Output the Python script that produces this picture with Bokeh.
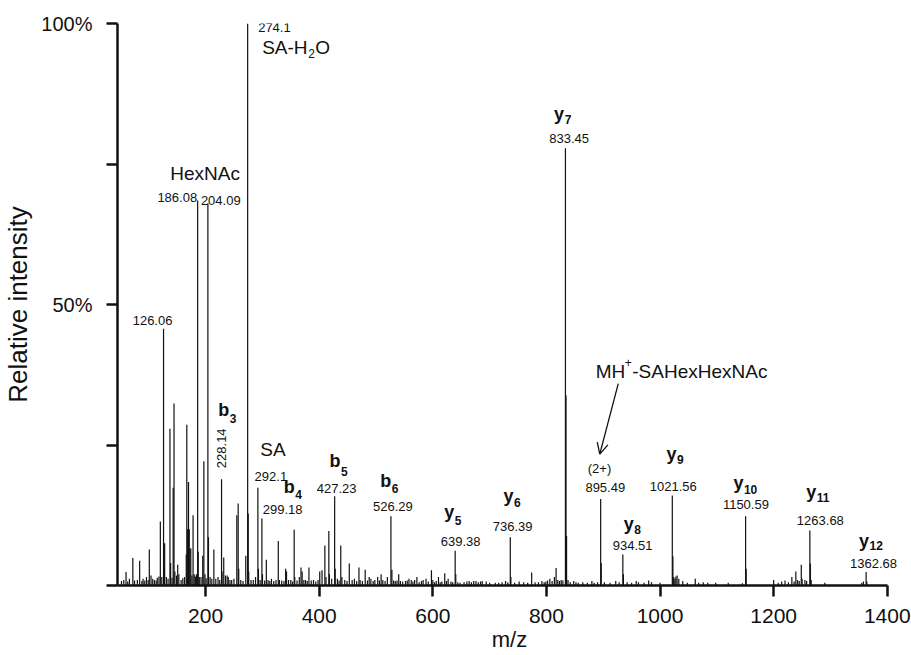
from bokeh.plotting import figure
from bokeh.models import Label, Arrow, OpenHead, FixedTicker, Range1d
from bokeh.embed import file_html
from bokeh.resources import INLINE

# ---------------- data ----------------
mz = [
    52, 56, 60, 63, 66, 72, 75, 80, 84, 88, 90, 93, 96, 99, 101, 104, 107, 110, 113, 115,
    118, 120.4, 123, 126.06, 127.1, 128, 131, 134, 137.3, 138.5, 141, 143, 144.5, 146, 149,
    151, 153, 157, 160, 163, 166, 167, 168.5, 170, 171.3, 172.5, 174, 176, 178, 180, 182,
    184, 186.08, 187.1, 189, 192, 195, 197, 199, 201, 204.09, 205.1, 208, 211, 214.6, 218,
    222, 225, 228.14, 229.1, 232, 235, 238, 240, 243, 246, 250, 255, 257.4, 258.4, 262, 266,
    270.8, 274.1, 275.1, 276, 280, 284, 288, 292.1, 293.1, 296, 299.18, 300.2, 304, 307, 310,
    313, 316, 320, 324, 328, 330, 334, 338, 341, 342.5, 346, 350, 353, 356, 357, 361, 365,
    368, 370, 373, 376, 379, 382, 386, 390, 394, 398, 401, 405, 410, 412, 417, 418, 422,
    427.23, 428.2, 432, 435, 438, 440, 445, 449, 453, 458, 462, 466, 470, 472, 476, 481,
    485, 488, 491, 495, 498, 503, 506, 509, 512, 516, 520, 526.29, 528, 531, 534, 537, 540,
    543, 547, 552, 555, 558, 562, 565, 568, 572, 576, 580, 583, 588, 592, 597.6, 600, 603,
    606, 610, 613, 616, 621, 624, 627, 632, 635, 639.38, 640.4, 644, 648, 655, 660, 664,
    668, 672, 676, 680, 684, 687, 694, 700, 710, 716, 722, 728, 732, 736.39, 737.4, 744,
    752, 760, 767, 774, 780, 786, 792, 796, 799, 802, 806, 810, 814, 817, 820, 823, 826,
    829, 833.45, 834.45, 835.45, 838, 842, 848, 852, 856, 864, 872, 880, 884, 890, 895.49,
    896.5, 902, 912, 922, 928, 934.51, 935.5, 942, 950, 958, 962, 972, 980, 985, 1000,
    1021.56, 1022.6, 1024, 1026, 1028, 1030, 1033, 1040, 1048, 1062, 1068, 1076, 1084,
    1098, 1120, 1145, 1150.59, 1151.6, 1200, 1208, 1214, 1220, 1226, 1232, 1236, 1239,
    1242, 1245, 1248.6, 1250, 1255, 1258, 1263.68, 1264.7, 1266, 1290, 1355, 1358,
    1362.68, 1364,
]
intensity = [
    0.8, 1.0, 2.4, 0.7, 1.2, 4.9, 0.9, 1.0, 4.4, 0.8, 1.2, 0.9, 1.5, 1.0, 6.4, 1.8, 1.2, 1.0,
    0.9, 1.4, 1.6, 11.4, 1.5, 45.7, 3.0, 7.5, 1.5, 1.2, 27.9, 4.0, 1.4, 17.4, 32.4, 2.5, 1.8,
    3.7, 2.0, 1.0, 1.3, 1.5, 5.5, 28.6, 10.0, 18.4, 10.0, 6.6, 6.6, 1.8, 12.5, 2.0, 1.6,
    2.0, 68.5, 6.0, 1.5, 1.5, 5.3, 22.1, 2.0, 1.3, 68.0, 8.6, 1.5, 1.2, 6.4, 1.2,
    1.5, 1.0, 18.9, 2.5, 5.0, 1.8, 1.8, 1.5, 1.0, 1.0, 1.2, 12.5, 14.6, 3.0, 1.0, 0.8,
    5.3, 100.0, 12.8, 2.5, 1.0, 1.0, 1.5, 17.4, 3.0, 1.0, 11.9, 2.0, 0.9, 4.6, 1.0,
    0.8, 1.2, 0.8, 1.0, 7.9, 1.0, 0.9, 0.8, 3.0, 2.5, 1.0, 1.0, 0.7, 9.9, 1.5, 0.9, 1.5,
    3.2, 2.5, 1.0, 1.0, 0.8, 3.2, 0.9, 1.0, 0.7, 1.0, 2.5, 2.7, 7.1, 1.5, 9.7, 2.0, 1.2,
    15.9, 3.0, 1.2, 0.9, 7.1, 1.5, 1.0, 0.8, 3.9, 1.0, 1.2, 0.8, 3.2, 1.0, 0.8, 2.8,
    0.9, 1.5, 1.2, 0.8, 1.0, 1.5, 0.9, 2.0, 1.0, 0.8, 1.5, 12.3, 2.8, 0.9, 0.8, 0.9, 2.0,
    0.8, 0.7, 0.8, 0.9, 1.2, 1.0, 0.7, 1.0, 1.5, 0.6, 0.8, 1.0, 1.2, 0.7, 2.7, 1.0, 0.6,
    0.8, 1.5, 0.6, 0.7, 2.2, 0.8, 1.2, 0.7, 0.6, 6.2, 2.0, 0.6, 0.5, 0.6, 0.7, 0.8,
    0.6, 0.8, 0.8, 0.6, 0.7, 0.8, 0.7, 0.5, 0.5, 0.5, 0.6, 0.8, 0.6, 8.6, 1.5, 0.5,
    0.7, 0.6, 0.5, 2.3, 0.6, 0.6, 0.8, 0.6, 0.7, 0.9, 1.2, 0.8, 1.5, 3.1, 1.0, 0.8, 1.0,
    0.9, 77.8, 33.8, 8.8, 1.0, 0.6, 0.8, 0.6, 0.5, 0.6, 0.5, 0.8, 0.5, 0.6, 15.4,
    4.0, 0.6, 0.5, 0.8, 0.6, 5.5, 2.0, 0.6, 0.5, 0.8, 0.6, 0.5, 0.9, 0.6, 0.5,
    16.0, 5.2, 1.5, 1.2, 1.6, 1.8, 1.2, 0.8, 0.5, 1.2, 0.5, 0.6, 0.5,
    0.5, 0.5, 0.4, 12.3, 3.0, 1.0, 0.5, 0.7, 0.9, 0.6, 1.5, 0.7, 2.5,
    1.0, 0.8, 3.7, 1.2, 1.0, 0.8, 9.8, 3.9, 1.0, 0.5, 0.5, 0.7,
    2.4, 0.7,
]

x_ticks = [200, 400, 600, 800, 1000, 1200, 1400]
y_ticks = [0, 25, 50, 75, 100]
y_tick_labels = {0: "", 25: "", 50: "50%", 75: "", 100: "100%"}

# annotated peaks: m/z value and its printed label
peak_labels = [126.06, 186.08, 204.09, 274.1, 228.14, 292.1, 299.18, 427.23, 526.29,
               639.38, 736.39, 833.45, 895.49, 934.51, 1021.56, 1150.59, 1263.68, 1362.68]
peak_label_text = ["126.06", "186.08", "204.09", "274.1", "228.14", "292.1", "299.18",
                   "427.23", "526.29", "639.38", "736.39", "833.45", "895.49", "934.51",
                   "1021.56", "1150.59", "1263.68", "1362.68"]
ion_names = ["b", "b", "b", "b", "y", "y", "y", "y", "y", "y", "y", "y"]
ion_subs = ["3", "4", "5", "6", "5", "6", "7", "8", "9", "10", "11", "12"]
ion_peaks = [228.14, 299.18, 427.23, 526.29, 639.38, 736.39, 833.45, 934.51,
             1021.56, 1150.59, 1263.68, 1362.68]

FONT = "Liberation Sans"
X_START, X_END, X_AXIS_END = 45, 1425, 1400
FRAME_W = 911 - 116 - 10
FRAME_H = 655 - 23 - 70

p = figure(width=911, height=655, x_range=Range1d(X_START, X_END), y_range=Range1d(0, 100),
           output_backend="svg", toolbar_location=None,
           min_border_left=116, min_border_right=10, min_border_top=23, min_border_bottom=70)
p.outline_line_color = None
p.xgrid.visible = False
p.ygrid.visible = False
p.background_fill_color = "white"
p.border_fill_color = "white"

p.segment(x0=mz, y0=[0] * len(mz), x1=mz, y1=intensity, line_color="#111111", line_width=1.2)

for ax in (p.xaxis[0], p.yaxis[0]):
    ax.axis_line_width = 2.5
    ax.axis_line_color = "#111111"
    ax.major_tick_line_width = 2.5
    ax.major_tick_line_color = "#111111"
    ax.major_tick_out = 11
    ax.major_tick_in = 0
    ax.minor_tick_line_color = None
    ax.major_label_text_font = FONT
    ax.axis_label_text_font = FONT
    ax.axis_label_text_font_style = "normal"
    ax.major_label_text_color = "#111111"
    ax.axis_label_text_color = "#111111"

p.xaxis.bounds = (X_START, X_AXIS_END)
p.xaxis.ticker = FixedTicker(ticks=x_ticks)
p.xaxis.major_label_text_font_size = "21px"
p.xaxis.major_label_standoff = 12
p.xaxis.axis_label = "m/z"
p.xaxis.axis_label_text_font_size = "22px"
p.xaxis.axis_label_standoff = 1

p.yaxis.ticker = FixedTicker(ticks=y_ticks)
p.yaxis.major_label_overrides = y_tick_labels
p.yaxis.major_label_text_font_size = "20px"
p.yaxis.major_label_standoff = 14
p.yaxis.axis_label = "Relative intensity"
p.yaxis.axis_label_text_font_size = "26px"
p.yaxis.axis_label_standoff = 5


def inten_of(m):
    return intensity[mz.index(m)]


def lab(x, y, text, dx, dy, size, align="center", bold=False, angle=0.0):
    # dy: vertical offset (px, upward) of the text's visual centre from the anchor
    p.add_layout(Label(x=x, y=y, text=text, x_offset=dx, y_offset=dy,
                       text_font=FONT, text_font_size=f"{size}px", text_align=align,
                       text_baseline="middle", text_font_style="bold" if bold else "normal",
                       angle=angle, text_color="#111111"))


# numeric peak labels: (dx, dy, align, angle)
num_style = {
    126.06: (-11, 8, "center", 0.0),
    186.08: (-0.5, 3, "right", 0.0),
    204.09: (-7, 3, "left", 0.0),
    274.1: (10.5, -4, "left", 0.0),
    228.14: (0, 31, "center", 1.5708),
    292.1: (13, 11, "center", 0.0),
    299.18: (20.8, 9.3, "center", 0.0),
    427.23: (2, 7.7, "center", 0.0),
    526.29: (2, 10, "center", 0.0),
    639.38: (5.4, 9.3, "center", 0.0),
    736.39: (2.3, 11, "center", 0.0),
    833.45: (3.7, 10, "center", 0.0),
    895.49: (4.6, 11, "center", 0.0),
    934.51: (9.8, 8.6, "center", 0.0),
    1021.56: (1, 9, "center", 0.0),
    1150.59: (0.3, 12, "center", 0.0),
    1263.68: (10.5, 10, "center", 0.0),
    1362.68: (7.4, 9, "center", 0.0),
}
for m, t in zip(peak_labels, peak_label_text):
    dx, dy, al, ang = num_style[m]
    lab(m, inten_of(m), t, dx, dy, 13, align=al, angle=ang)

# ion labels: letter right edge dx, letter baseline dy, subscript baseline dy
ion_style = {
    228.14: (7.7, 63, 56),
    299.18: (32.8, 25, 20),
    427.23: (5.9, 28.4, 20.7),
    526.29: (0.2, 29, 23.4),
    639.38: (-1, 32, 26),
    736.39: (3.3, 35, 30.7),
    833.45: (-1.3, 28, 24.7),
    934.51: (11, 23.8, 20.3),
    1021.56: (4.3, 35.5, 31.7),
    1150.59: (-2.2, 26.5, 22.7),
    1263.68: (6.5, 32, 28.3),
    1362.68: (3, 25, 21.7),
}
for name, sub, m in zip(ion_names, ion_subs, ion_peaks):
    dx, dy, sdy = ion_style[m]
    lab(m, inten_of(m), name, dx, dy + 0.36 * 18, 18, align="right", bold=True)
    lab(m, inten_of(m), sub, dx + 0.5, sdy + 0.36 * 12, 12, align="left", bold=True)

# text annotations
i274 = inten_of(274.1)
lab(274.1, i274, "SA-H", 14.5, -24, 19, align="left")
lab(274.1, i274, "2", 60.5, -30, 12, align="left")
lab(274.1, i274, "O", 67.5, -24, 19, align="left")

lab(186.08, inten_of(186.08), "HexNAc", 7.4, 27, 19)
lab(292.1, inten_of(292.1), "SA", 15, 38, 19)

i895 = inten_of(895.49)
lab(895.49, i895, "(2+)", -1.2, 30.6, 13)
lab(895.49, i895, "MH", -4.9, 127.6, 19, align="left")
lab(895.49, i895, "+", 24.0, 136, 12, align="left")
lab(895.49, i895, "-SAHexHexNAc", 31.6, 127.6, 19, align="left")

# arrow to the doubly charged ion (offsets in pixels converted to data units)
xpp = (X_END - X_START) / float(FRAME_W)
ypp = 100 / float(FRAME_H)
p.add_layout(Arrow(end=OpenHead(size=11, line_width=1.3, line_color="#111111"),
                   x_start=895.49 + 17.6 * xpp, y_start=i895 + 115.3 * ypp,
                   x_end=895.49 - 0.9 * xpp, y_end=i895 + 44.8 * ypp,
                   line_width=1.3, line_color="#111111"))

open("out.html", "w").write(file_html(p, INLINE))
